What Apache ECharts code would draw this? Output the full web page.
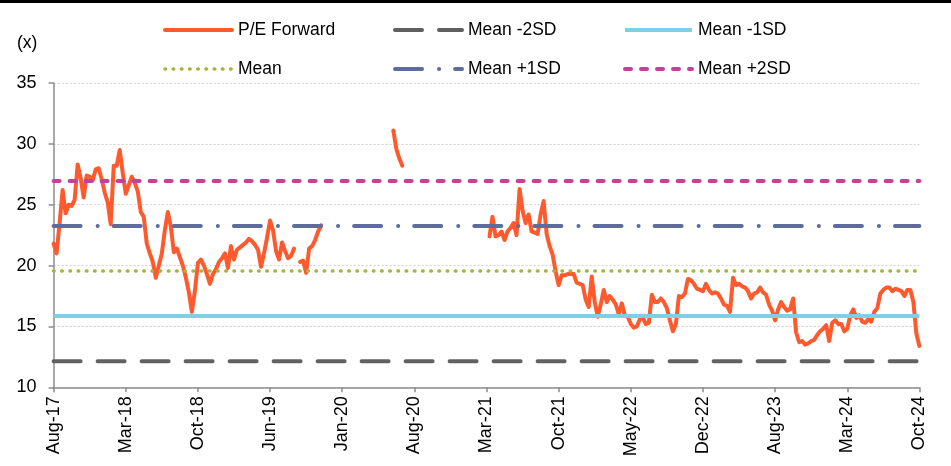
<!DOCTYPE html>
<html>
<head>
<meta charset="utf-8">
<script src="https://cdn.jsdelivr.net/npm/echarts@6/dist/echarts.min.js"></script>
<style>
  html, body { margin: 0; padding: 0; background: #ffffff; }
  #chart { width: 951px; height: 466px; }
</style>
</head>
<body>
<div id="chart"></div>
<script>
// Axis labels, one every 24 observations
const tickLabels = ['Aug-17', 'Mar-18', 'Oct-18', 'Jun-19', 'Jan-20', 'Aug-20', 'Mar-21',
                    'Oct-21', 'May-22', 'Dec-22', 'Aug-23', 'Mar-24', 'Oct-24'];
const stepsPerTick = 24;

// Forward P/E (x); null = no observation
const peForward = [
  21.8, 21.0, 23.5, 26.2, 24.3, 25.0, 24.9, 25.4, 28.3, 27.2, 25.6, 27.4,
  27.3, 27.0, 27.9, 28.0, 27.1, 26.0, 25.2, 23.4, 28.2, 28.2, 29.5, 27.6,
  25.9, 26.6, 27.3, 26.8, 26.1, 24.4, 24.0, 21.8, 21.0, 20.3, 19.0, 20.0,
  21.0, 22.9, 24.4, 23.2, 21.1, 21.4, 20.7, 20.0, 19.0, 17.8, 16.2, 17.9,
  20.2, 20.5, 20.0, 19.3, 18.5, 19.3, 19.7, 20.3, 20.6, 21.0, 19.8, 21.6,
  20.5, 21.3, 21.5, 21.7, 21.9, 22.2, 22.0, 21.7, 21.3, 19.9, 21.0, 22.3,
  23.7, 22.9, 21.2, 20.5, 21.9, 21.2, 20.6, 20.8, 21.4, null, 20.3, 20.4,
  19.4, 21.4, 21.6, 22.1, 22.8, 23.3, null, null, null, null, null, null,
  null, null, null, null, null, null, null, null, null, null, null, null,
  null, null, null, null, null, 31.1, 29.6, 28.8, 28.2, null, null, null,
  null, null, null, null, null, null, null, null, null, null, null, null,
  null, null, null, null, null, null, null, null, null, null, null, null,
  null, 22.4, 24.0, 22.4, 22.5, 22.8, 22.1, 22.8, 23.1, 23.5, 22.5, 26.3,
  24.5, 23.5, 24.2, 22.8, 22.7, 22.6, 24.2, 25.3, 22.6, 21.6, 20.9, 19.5,
  18.4, 19.2, 19.2, 19.3, 19.3, 19.3, 18.6, 18.5, 18.4, 17.2, 16.6, 19.1,
  17.0, 15.8, 16.8, 18.0, 17.0, 17.5, 17.2, 16.8, 16.0, 16.9, 15.9, 15.8,
  15.2, 14.9, 15.0, 15.6, 15.7, 15.2, 15.3, 17.6, 17.0, 17.0, 17.3, 17.0,
  16.5, 15.5, 14.6, 15.2, 17.5, 17.4, 17.7, 18.9, 18.8, 18.5, 18.1, 18.0,
  17.9, 18.5, 18.0, 17.7, 17.8, 17.7, 17.3, 16.8, 16.7, 16.2, 19.0, 18.4,
  18.5, 18.3, 18.2, 17.9, 17.3, 17.7, 17.8, 18.2, 17.8, 17.6, 16.8, 16.3,
  15.5, 16.4, 17.0, 16.6, 16.3, 16.4, 17.3, 14.5, 13.7, 13.8, 13.5, 13.6,
  13.8, 13.9, 14.3, 14.6, 14.8, 15.1, 13.8, 15.3, 15.5, 15.2, 15.2, 14.6,
  14.8, 15.9, 16.4, 15.7, 15.9, 15.4, 15.3, 15.6, 15.4, 16.2, 16.5, 17.7,
  18.0, 18.2, 18.2, 17.9, 18.1, 18.0, 17.9, 17.5, 18.0, 18.0, 17.0, 14.4,
  13.4
];

// Valuation bands (x)
const bandNames  = ['Mean -2SD', 'Mean -1SD', 'Mean', 'Mean +1SD', 'Mean +2SD'];
const bandValues = [12.15, 15.85, 19.55, 23.25, 26.95];

const lastIndex = (tickLabels.length - 1) * stepsPerTick;
const FONT = 'Liberation Sans, Arial, sans-serif';

const bandStyles = [
  { color: '#606060', type: [27, 17], width: 4, cap: 'round' },
  { color: '#7fd0e6', type: 'solid', width: 4, cap: 'butt' },
  { color: '#a9b23a', type: [0.5, 7.7], width: 3.6, cap: 'round' },
  { color: '#5d6b9d', type: [27, 17, 0.1, 16], width: 4, cap: 'round' },
  { color: '#c0439b', type: [6, 10], width: 4, cap: 'round' }
];

const series = [{
  name: 'P/E Forward',
  type: 'line',
  data: peForward.map((v, i) => [i, v]),
  symbol: 'none',
  connectNulls: false,
  lineStyle: { color: '#ff5a2d', width: 4, join: 'round', cap: 'round' },
  itemStyle: { color: '#ff5a2d' }
}];

bandNames.forEach((name, k) => {
  const s = bandStyles[k];
  series.push({
    name: name,
    type: 'line',
    data: [[0, bandValues[k]], [lastIndex, bandValues[k]]],
    symbol: 'none',
    silent: true,
    lineStyle: { color: s.color, width: s.width, type: s.type, cap: s.cap },
    itemStyle: { color: s.color }
  });
});

// Legend keys show the line style only (no marker)
const legendBase = {
  orient: 'vertical',
  top: 20,
  padding: 0,
  itemWidth: 67,
  itemHeight: 20,
  itemGap: 19,
  selectedMode: false,
  itemStyle: { opacity: 0 },
  lineStyle: { width: 'inherit', type: 'inherit', cap: 'inherit', opacity: 1 },
  textStyle: { fontFamily: FONT, fontSize: 17.5, color: '#000', lineHeight: 20, padding: [0, 0, 0, 1] }
};

const chart = echarts.init(document.getElementById('chart'), null, { renderer: 'canvas' });
chart.setOption({
  animation: false,
  backgroundColor: '#ffffff',
  grid: { left: 53.6, right: 31.6, top: 83, bottom: 78.7, containLabel: false },
  legend: [
    Object.assign({}, legendBase, { left: 163, data: ['P/E Forward', 'Mean'] }),
    Object.assign({}, legendBase, { left: 393, data: ['Mean -2SD', 'Mean +1SD'] }),
    Object.assign({}, legendBase, { left: 623, data: ['Mean -1SD', 'Mean +2SD'] })
  ],
  graphic: [
    { type: 'rect', left: 0, top: 0, shape: { width: 951, height: 3 }, style: { fill: '#000' } },
    { type: 'text', left: 17, top: 34, style: { text: '(x)', font: '17.5px ' + FONT, fill: '#000' } }
  ],
  xAxis: {
    type: 'value',
    min: 0,
    max: lastIndex,
    interval: stepsPerTick,
    axisLine: { show: true, lineStyle: { color: '#8c8c8c', width: 1.5 } },
    axisTick: { show: true, length: 5, lineStyle: { color: '#8c8c8c', width: 1.5 } },
    splitLine: { show: false },
    axisLabel: {
      rotate: 90,
      margin: 9,
      fontFamily: FONT,
      fontSize: 18,
      color: '#000',
      formatter: v => tickLabels[Math.round(v / stepsPerTick)] || ''
    }
  },
  yAxis: {
    type: 'value',
    min: 10,
    max: 35,
    interval: 5,
    axisLine: { show: true, lineStyle: { color: '#8c8c8c', width: 1.5 } },
    axisTick: { show: true, length: 5, lineStyle: { color: '#8c8c8c', width: 1.5 } },
    splitLine: { show: true, lineStyle: { color: '#d0d0d0', width: 1, type: [2, 2] } },
    axisLabel: { margin: 17, fontFamily: FONT, fontSize: 18, color: '#000' }
  },
  series: series
});
</script>
</body>
</html>
